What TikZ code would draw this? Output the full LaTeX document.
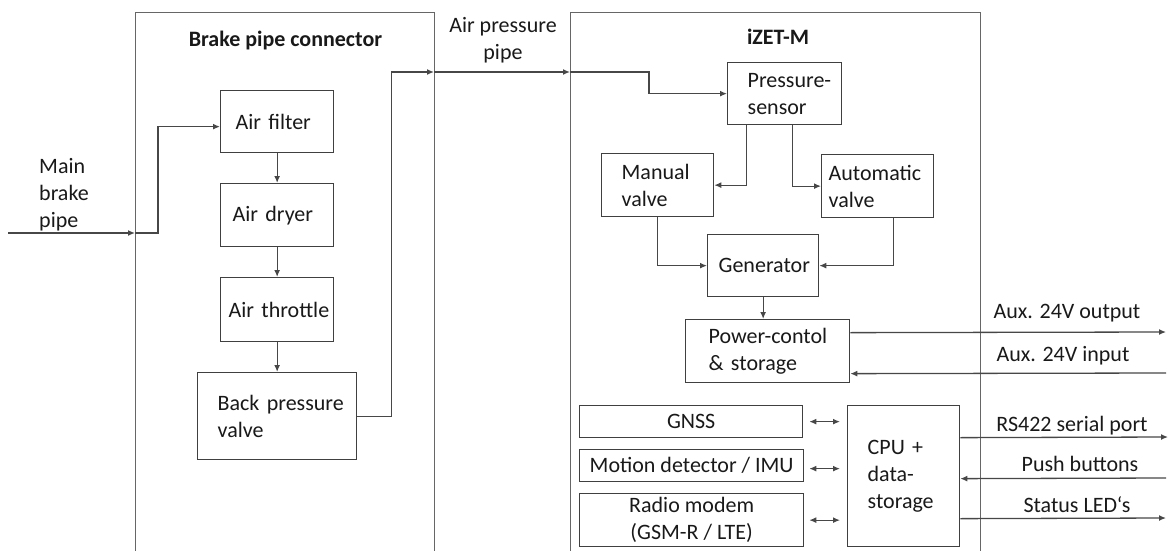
\documentclass[tikz,border=0pt]{standalone}
\usepackage{fontspec}
\setmainfont{Carlito}
\usetikzlibrary{arrows.meta}
\newcommand{\fsz}{\fontsize{22}{27}\selectfont\hyphenpenalty=10000\exhyphenpenalty=10000}
\begin{document}
\begin{tikzpicture}[x=1pt,y=-1pt,
  every node/.style={font=\fsz, text=black!90},
  container/.style={draw=black!60, line width=1.4pt, anchor=north west, inner sep=0pt},
  box/.style={draw=black!75, line width=1.3pt, anchor=north west, inner sep=0pt},
  bx/.style 2 args={box, minimum width=#1pt, minimum height=#2pt},
  pad/.style 2 args={text width=#1pt, inner xsep=#2pt, align=left},
  lbl/.style={inner sep=0pt},
  tip/.tip={Latex[length=7pt,width=6pt]},
  arr/.style={draw=black!72, line width=1.3pt, -tip},
  darr/.style={draw=black!72, line width=1.3pt, tip-tip},
  ttl/.style={inner sep=0pt, anchor=base, font=\fsz\bfseries}
]
\clip (0,0) rectangle (1170,551);

% containers
\node[container, minimum width=299pt, minimum height=600pt] (bpc) at (135,12) {};
\node[container, minimum width=410pt, minimum height=600pt] (izet) at (570,12) {};
\node[ttl] (bpctitle) at (285.5,47) {Brake pipe connector};
\node[ttl] (izettitle) at (778,45) {iZET-M};

% brake pipe connector boxes
\node[bx={113}{62}, pad={83}{15}] (filter) at (220,90) {Air filter};
\node[bx={113}{63}, pad={89}{12}] (dryer) at (220,183) {Air dryer};
\node[bx={113}{64}, pad={97}{8}] (throttle) at (220,277) {Air~throttle};
\node[bx={159}{87}, pad={119}{20}] (bpv) at (197,372) {Back~pressure\\valve};

% iZET-M boxes
\node[bx={114}{62}, pad={74}{20}] (psensor) at (727,62) {Pressure-\\sensor};
\node[bx={112}{63}, pad={72}{20}] (manual) at (601,153) {Manual\\valve};
\node[bx={112}{63}, pad={98}{7}] (auto) at (821,154) {Automatic\\valve};
\node[bx={111}{62}, pad={89}{11}] (gen) at (707,234) {Generator};
\node[bx={164}{63}, pad={118}{23}] (power) at (685,319) {Power-contol\\\&~storage};
\node[bx={223}{32}, align=center] (gnss) at (579,405) {GNSS};
\node[bx={224}{32}, align=center] (motion) at (579,449) {Motion~detector~/~IMU};
\node[bx={224}{53}, align=center] (radio) at (579,493) {Radio~modem\\(GSM-R~/~LTE)};
\node[bx={112}{141}, pad={72}{20}] (cpu) at (847,405) {CPU~+\\data-\\storage};

% free labels
\node[lbl, anchor=west, align=left] (mbplabel) at (39,195) {Main\\brake\\pipe};
\node[lbl, align=center] (aplabel) at (503,40) {Air pressure\\pipe};
\node[lbl, anchor=base] (l1) at (1067,318) {Aux. 24V output};
\node[lbl, anchor=base] (l2) at (1063,361) {Aux. 24V input};
\node[lbl, anchor=base] (l3) at (1072,431) {RS422 serial port};
\node[lbl, anchor=base] (l4) at (1080,471) {Push buttons};
\node[lbl, anchor=base] (l5) at (1077,512) {Status LED‘s};

% free ends
\coordinate (mbpstart) at (8,233);
\coordinate (bpcout) at (434,72);
\coordinate (izin) at (570,72);
\coordinate (auxout) at (1166,332);
\coordinate (auxin) at (1166,373);
\coordinate (rs) at (1168,437);
\coordinate (push) at (1166,478);
\coordinate (led) at (1166,518);

% connectors
\draw[arr] (mbpstart) -- (mbpstart -| bpc.west);
\draw[arr] (mbpstart -| bpc.west) -- ++(23,0) |- ([yshift=-5pt]filter.west);
\draw[arr] (filter.south) -- (dryer.north);
\draw[arr] (dryer.south) -- (throttle.north);
\draw[arr] (throttle.south) -- (bpv.north);
\draw[arr] (bpv.east) -- ++(34,0) |- (bpcout);
\draw[arr] (bpcout) -- (izin);
\draw[arr] (izin) -- ++(79,0) |- (psensor.west);
\draw[arr] ([xshift=-38pt]psensor.south) |- (manual.east);
\draw[arr] ([xshift=8pt]psensor.south) |- (auto.west);
\draw[arr] (manual.south) |- (gen.west);
\draw[arr] ([xshift=16pt]auto.south) |- (gen.east);
\draw[arr] (gen.south) -- (gen.south |- power.north);
\draw[arr] ([yshift=18.5pt]power.east) -- (auxout);
\draw[arr] (auxin) -- ([yshift=-22.5pt]power.east);
\draw[darr, shorten <=6pt, shorten >=7pt] (gnss.east) -- (gnss.east -| cpu.west);
\draw[darr, shorten <=5pt, shorten >=7pt] ([yshift=-3pt]motion.east) -- ([yshift=-3pt]motion.east -| cpu.west);
\draw[darr, shorten <=5pt, shorten >=7pt] (radio.east) -- (radio.east -| cpu.west);
\draw[arr] ([yshift=38.5pt]cpu.east) -- (rs);
\draw[arr] (push) -- ([yshift=-2.5pt]cpu.east);
\draw[arr] ([yshift=-42.5pt]cpu.east) -- (led);
\end{tikzpicture}
\end{document}
